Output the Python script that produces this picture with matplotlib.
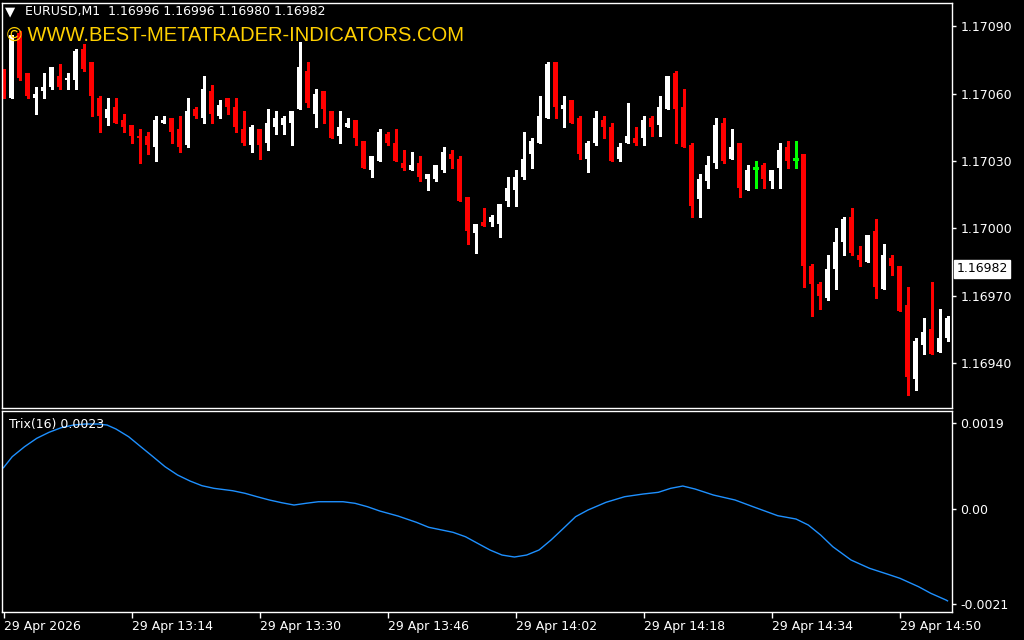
import matplotlib
matplotlib.use("Agg")
import matplotlib.pyplot as plt
import matplotlib.transforms as mtransforms

# ==========================================
# DATA (EURUSD M1)
# ==========================================

opens = [1.17067, 1.17058, 1.17087, 1.17069, 1.17058, 1.17061, 1.17063, 1.17068, 1.17066, 1.17066,
         1.17080, 1.17074, 1.17058, 1.17049, 1.17054, 1.17048, 1.17046, 1.17041, 1.17041, 1.17036,
         1.17047, 1.17049, 1.17044, 1.17037, 1.17053, 1.17049, 1.17061, 1.17050, 1.17058, 1.17054,
         1.17044, 1.17037, 1.17044, 1.17038, 1.17045, 1.17046, 1.17047, 1.17053, 1.17070, 1.17051,
         1.17061, 1.17052, 1.17041, 1.17045, 1.17048, 1.17039, 1.17026, 1.17030, 1.17042, 1.17038,
         1.17029, 1.17026, 1.17029, 1.17022, 1.17022, 1.17026, 1.17033, 1.17031, 1.17014, 1.16998,
         1.17003, 1.17003, 1.17002, 1.17012, 1.17017, 1.17023, 1.17033, 1.17038, 1.17049, 1.17074,
         1.17053, 1.17057, 1.17049, 1.17031, 1.17038, 1.17048, 1.17045, 1.17031, 1.17038, 1.17040,
         1.17040, 1.17049, 1.17046, 1.17053, 1.17069, 1.17054, 1.17037, 1.17013, 1.17021, 1.17029,
         1.17047, 1.17031, 1.17038, 1.17017, 1.17027, 1.17028, 1.17021, 1.17027, 1.17036, 1.17031,
         1.17033, 1.16983, 1.16975, 1.16969, 1.16982, 1.16994, 1.17005, 1.16988, 1.16985, 1.16999,
         1.16973, 1.16987, 1.16983, 1.16966, 1.16933, 1.16948, 1.16955, 1.16945, 1.16951]

highs = [1.17071, 1.17086, 1.17088, 1.17069, 1.17063, 1.17069, 1.17072, 1.17073, 1.17069, 1.17080,
         1.17082, 1.17074, 1.17059, 1.17058, 1.17058, 1.17051, 1.17046, 1.17044, 1.17043, 1.17050,
         1.17050, 1.17049, 1.17050, 1.17058, 1.17054, 1.17068, 1.17064, 1.17057, 1.17058, 1.17058,
         1.17052, 1.17046, 1.17044, 1.17053, 1.17052, 1.17050, 1.17052, 1.17083, 1.17074, 1.17062,
         1.17061, 1.17052, 1.17052, 1.17049, 1.17048, 1.17039, 1.17032, 1.17044, 1.17043, 1.17044,
         1.17035, 1.17034, 1.17032, 1.17024, 1.17028, 1.17036, 1.17035, 1.17032, 1.17014, 1.17002,
         1.17009, 1.17006, 1.17011, 1.17023, 1.17026, 1.17043, 1.17040, 1.17059, 1.17074, 1.17074,
         1.17059, 1.17057, 1.17050, 1.17039, 1.17052, 1.17050, 1.17047, 1.17038, 1.17056, 1.17045,
         1.17050, 1.17050, 1.17059, 1.17068, 1.17070, 1.17062, 1.17038, 1.17024, 1.17032, 1.17049,
         1.17049, 1.17044, 1.17038, 1.17028, 1.17030, 1.17029, 1.17026, 1.17038, 1.17039, 1.17039,
         1.17033, 1.16984, 1.16976, 1.16988, 1.17000, 1.17005, 1.17009, 1.16992, 1.16997, 1.17004,
         1.16993, 1.16988, 1.16983, 1.16974, 1.16951, 1.16960, 1.16976, 1.16964, 1.16961]

lows = [1.17058, 1.17058, 1.17066, 1.17058, 1.17051, 1.17058, 1.17062, 1.17062, 1.17062, 1.17062,
        1.17070, 1.17050, 1.17043, 1.17046, 1.17047, 1.17043, 1.17038, 1.17029, 1.17033, 1.17030,
        1.17047, 1.17038, 1.17034, 1.17036, 1.17049, 1.17047, 1.17047, 1.17049, 1.17051, 1.17043,
        1.17037, 1.17034, 1.17031, 1.17035, 1.17042, 1.17042, 1.17037, 1.17053, 1.17054, 1.17045,
        1.17047, 1.17040, 1.17038, 1.17045, 1.17037, 1.17027, 1.17023, 1.17030, 1.17037, 1.17030,
        1.17026, 1.17026, 1.17021, 1.17017, 1.17021, 1.17025, 1.17027, 1.17012, 1.16993, 1.16989,
        1.17001, 1.17001, 1.16996, 1.17010, 1.17010, 1.17022, 1.17027, 1.17038, 1.17049, 1.17049,
        1.17045, 1.17047, 1.17031, 1.17025, 1.17037, 1.17040, 1.17030, 1.17030, 1.17038, 1.17037,
        1.17037, 1.17041, 1.17041, 1.17053, 1.17038, 1.17036, 1.17005, 1.17005, 1.17018, 1.17027,
        1.17029, 1.17031, 1.17014, 1.17017, 1.17018, 1.17018, 1.17018, 1.17018, 1.17027, 1.17027,
        1.16974, 1.16961, 1.16964, 1.16968, 1.16973, 1.16988, 1.16988, 1.16983, 1.16985, 1.16969,
        1.16973, 1.16979, 1.16963, 1.16926, 1.16928, 1.16944, 1.16944, 1.16945, 1.16950]

closes = [1.17058, 1.17086, 1.17067, 1.17059, 1.17060, 1.17063, 1.17072, 1.17063, 1.17067, 1.17079,
          1.17071, 1.17059, 1.17050, 1.17053, 1.17047, 1.17045, 1.17041, 1.17040, 1.17037, 1.17048,
          1.17048, 1.17043, 1.17036, 1.17052, 1.17050, 1.17062, 1.17051, 1.17055, 1.17054, 1.17045,
          1.17038, 1.17045, 1.17037, 1.17047, 1.17049, 1.17049, 1.17052, 1.17072, 1.17056, 1.17060,
          1.17053, 1.17040, 1.17045, 1.17047, 1.17040, 1.17027, 1.17032, 1.17043, 1.17038, 1.17030,
          1.17027, 1.17028, 1.17023, 1.17024, 1.17028, 1.17034, 1.17031, 1.17012, 1.16999, 1.17002,
          1.17001, 1.17005, 1.17011, 1.17018, 1.17023, 1.17031, 1.17039, 1.17050, 1.17073, 1.17054,
          1.17055, 1.17047, 1.17033, 1.17038, 1.17049, 1.17045, 1.17030, 1.17036, 1.17041, 1.17038,
          1.17048, 1.17045, 1.17054, 1.17068, 1.17053, 1.17036, 1.17010, 1.17022, 1.17028, 1.17046,
          1.17030, 1.17036, 1.17018, 1.17026, 1.17027, 1.17022, 1.17026, 1.17035, 1.17030, 1.17031,
          1.16983, 1.16975, 1.16970, 1.16982, 1.16994, 1.17004, 1.16989, 1.16986, 1.16997, 1.16974,
          1.16988, 1.16983, 1.16963, 1.16934, 1.16950, 1.16954, 1.16944, 1.16951, 1.16960]

# Trix(16) line, sampled at bar indices
trix_bars = [0, 1.09, 2.63, 4.15, 5.69, 7.21, 8.75, 10.28, 11.81, 12.94, 14.06, 15.64, 17.16,
             18.69, 20.19, 21.76, 23.31, 24.81, 26.31, 28.65, 30.19, 31.69, 33.24, 34.78, 36.31,
             37.81, 39.36, 42.44, 43.94, 45.49, 47.03, 49.31, 51.61, 53.15, 56.19, 57.74, 59.26,
             60.81, 62.31, 63.86, 65.39, 66.94, 68.44, 69.99, 71.51, 73.06, 75.31, 77.64, 79.94,
             81.85, 83.39, 84.91, 86.44, 88.74, 91.44, 93.69, 96.78, 99.06, 100.6, 102.14, 103.66,
             105.94, 108.26, 110.56, 112.06, 114.38, 115.91, 117.81, 118]
trix_vals = [0.000913, 0.001156, 0.001377, 0.001562, 0.001695, 0.001797, 0.001856, 0.001878,
             0.001878, 0.001856, 0.001768, 0.001598, 0.001377, 0.001156, 0.000935, 0.000751,
             0.000619, 0.000515, 0.000457, 0.000404, 0.000347, 0.000272, 0.000199, 0.000139,
             0.000088, 0.000126, 0.000161, 0.000161, 0.000126, 0.000051, -0.000044, -0.000155,
             -0.000294, -0.000404, -0.000515, -0.000612, -0.000758, -0.000906, -0.001017,
             -0.001061, -0.001017, -0.000906, -0.000685, -0.000427, -0.000170, -0.000022,
             0.000148, 0.000272, 0.000331, 0.000369, 0.000457, 0.000508, 0.000442, 0.000309,
             0.000199, 0.000051, -0.000148, -0.000221, -0.000354, -0.000575, -0.000833,
             -0.001127, -0.001311, -0.001443, -0.001532, -0.001717, -0.001863, -0.002011,
             -0.002030]

price_ticks = [1.17090, 1.17060, 1.17030, 1.17000, 1.16970, 1.16940]
trix_ticks = [0.0019, 0.0, -0.0021]
trix_tick_labels = ["0.0019", "0.00", "-0.0021"]
time_ticks = [0, 16, 32, 48, 64, 80, 96, 112]
time_labels = ["29 Apr 2026", "29 Apr 13:14", "29 Apr 13:30", "29 Apr 13:46",
               "29 Apr 14:02", "29 Apr 14:18", "29 Apr 14:34", "29 Apr 14:50"]
last_price = 1.16982

# ==========================================
# STYLE
# ==========================================

BG = "black"
FG = "white"
BULL = "#FFFFFF"
BEAR = "#FF0000"
DOJI = "#00FF00"
TRIX_COLOR = "#1E90FF"

W, H = 1024, 640


def px_axes(fig, left, top, right, bottom):
    # pixel box -> figure fraction
    return fig.add_axes([left / W, 1 - bottom / H, (right - left) / W, (bottom - top) / H])


def style_axes(ax):
    ax.set_facecolor(BG)
    for spine in ax.spines.values():
        spine.set_color(FG)
        spine.set_linewidth(1)
    ax.yaxis.tick_right()
    ax.tick_params(axis="y", colors=FG, direction="out", length=3, width=1,
                   labelsize=9, pad=3)


fig = plt.figure(figsize=(W / 100, H / 100), dpi=100)
fig.patch.set_facecolor(BG)

ax = px_axes(fig, 2, 3, 952, 408)
ax2 = px_axes(fig, 2, 411, 952, 612)
style_axes(ax)
style_axes(ax2)

# ---------------- candles ---------------- #
body_w = 0.625
for i in range(len(opens)):
    o, h, l, c = opens[i], highs[i], lows[i], closes[i]
    if round(o, 5) == round(c, 5):
        col = DOJI
    elif c > o:
        col = BULL
    else:
        col = BEAR
    ax.vlines(i, l, h, color=col, linewidth=1, antialiased=False)
    if col == DOJI:
        ax.hlines(o, i - body_w / 2, i + body_w / 2, color=col, linewidth=1, antialiased=False)
    else:
        ax.bar(i, abs(c - o), bottom=min(o, c), width=body_w, color=col,
               linewidth=0, antialiased=False)

ax.set_xlim(-0.1875, 118.56)
ax.set_ylim(1.169200, 1.171003)
ax.set_yticks(price_ticks)
ax.set_yticklabels([f"{p:.5f}" for p in price_ticks])
ax.set_xticks([])

# current price tag
trans = mtransforms.blended_transform_factory(ax.transAxes, ax.transData)
ax.text(1.0045, last_price, f"{last_price:.5f}", transform=trans, color="black",
        fontsize=9, va="center", ha="left",
        bbox=dict(facecolor="white", edgecolor="white", boxstyle="square,pad=0.2"))

# ---------------- trix ---------------- #
ax2.plot(trix_bars, trix_vals, color=TRIX_COLOR, linewidth=1)
ax2.set_xlim(-0.1875, 118.56)
ax2.set_ylim(-0.002276, 0.002166)
ax2.set_yticks(trix_ticks)
ax2.set_yticklabels(trix_tick_labels)
ax2.set_xticks(time_ticks)
ax2.set_xticklabels(time_labels)
ax2.tick_params(axis="x", colors=FG, direction="out", length=4, width=1,
                labelsize=9, pad=2)
for lbl in ax2.get_xticklabels():
    lbl.set_horizontalalignment("left")

ax2.text(7 / 950, 0.935, "Trix(16) 0.0023", transform=ax2.transAxes, color=FG,
         fontsize=9, va="center", ha="left")

# ---------------- header ---------------- #
fig.text(5 / W, 1 - 12 / H, "\u25bc", color=FG, fontsize=9.5, va="center", ha="left")
fig.text(25 / W, 1 - 12 / H, "EURUSD,M1  1.16996 1.16996 1.16980 1.16982",
         color=FG, fontsize=9, va="center", ha="left")
fig.text(7 / W, 1 - 35 / H, "\u00a9 WWW.BEST-METATRADER-INDICATORS.COM",
         color="#FFD000", fontsize=14.5, family="Liberation Sans", va="center", ha="left")

fig.savefig("out.png", dpi=100, facecolor=BG)
